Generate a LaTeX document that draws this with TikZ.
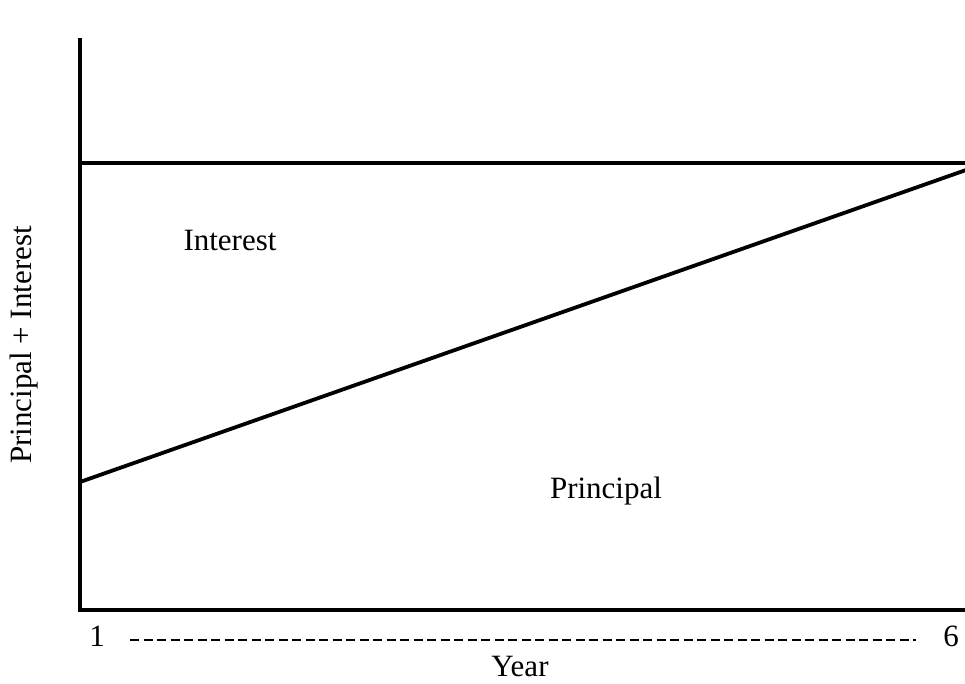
\documentclass[tikz,border=0pt]{standalone}
\usepackage{fontspec}
\setmainfont{Liberation Serif}
\begin{document}
\begin{tikzpicture}[x=1pt,y=-1pt,
  axis/.style={line width=3.8pt},
  lbl/.style={font=\fontsize{31}{36}\selectfont, inner sep=0pt},
  dashline/.style={line width=2.5pt, dash pattern=on 9pt off 4.5pt}]
\useasboundingbox (0,0) rectangle (965,683);
\coordinate (top) at (80,38);
\coordinate (origin) at (80,610);
\coordinate (xend) at (966,610);
\coordinate (hl) at (80,163);
\coordinate (hr) at (966,163);
\coordinate (dl) at (80,482);
\coordinate (dr) at (966,170);
\draw[axis] (top) -- (origin) -- (xend);
\draw[axis] (hl) -- (hr);
\draw[axis] (dl) -- (dr);
\node[lbl] (interest) at (230,240) {Interest};
\node[lbl] (principal) at (606,491) {Principal};
\node[lbl, rotate=90] (ylab) at (24,345) {Principal + Interest};
\node[lbl] (one) at (97,636) {1};
\node[lbl] (six) at (951,636) {6};
\node[lbl] (year) at (520,666) {Year};
\coordinate (ds) at (130,640);
\coordinate (de) at (916,640);
\draw[dashline] (ds) -- (de);
\end{tikzpicture}
\end{document}
